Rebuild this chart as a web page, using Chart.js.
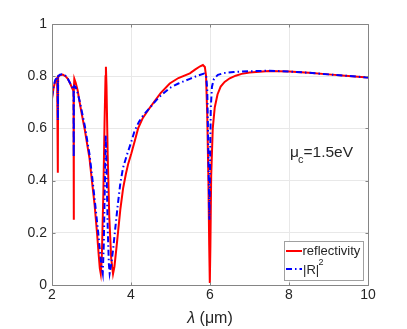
<!DOCTYPE html>
<html>
<head>
<meta charset="utf-8">
<script src="https://cdn.jsdelivr.net/npm/chart.js@4/dist/chart.umd.min.js"></script>
<style>
  html, body { margin: 0; padding: 0; background: #fff; }
  #wrap { width: 407px; height: 329px; }
</style>
</head>
<body>
<div id="wrap"><canvas id="reflChart" width="407" height="329"></canvas></div>
<script>
// values
const xTicks = [2, 4, 6, 8, 10];
const yTicks = [0, 0.2, 0.4, 0.6, 0.8, 1];

const reflX = [2.00, 2.04, 2.08, 2.13, 2.145, 2.15, 2.155, 2.20, 2.27, 2.34, 2.40, 2.46, 2.53, 2.545, 2.55, 2.555, 2.565,
  2.60, 2.65, 2.70, 2.76, 2.83, 2.90, 2.95, 3.01, 3.08, 3.14, 3.18, 3.21, 3.235, 3.26, 3.30, 3.33, 3.355, 3.365, 3.38,
  3.41, 3.45, 3.50, 3.545, 3.58, 3.63, 3.67, 3.73, 3.80, 3.87, 3.93, 4.01, 4.10, 4.18, 4.30, 4.47, 4.60, 4.75, 4.98,
  5.20, 5.49, 5.62, 5.75, 5.82, 5.87, 5.90, 5.93, 5.96, 5.98, 5.995, 6.01, 6.03, 6.07, 6.12, 6.19, 6.27, 6.37, 6.50,
  6.65, 6.80, 7.00, 7.50, 8.00, 8.50, 9.00, 9.50, 10.00];
const reflY = [0.713, 0.755, 0.780, 0.793, 0.795, 0.43, 0.797, 0.804, 0.806, 0.800, 0.790, 0.772, 0.748, 0.742, 0.25, 0.745, 0.790,
  0.775, 0.745, 0.700, 0.650, 0.595, 0.530, 0.485, 0.400, 0.305, 0.200, 0.120, 0.065, 0.043, 0.10, 0.35, 0.62, 0.80, 0.836, 0.76,
  0.50, 0.26, 0.10, 0.043, 0.07, 0.14, 0.20, 0.29, 0.37, 0.425, 0.465, 0.505, 0.555, 0.600, 0.640, 0.678, 0.705, 0.735, 0.772,
  0.793, 0.811, 0.825, 0.838, 0.843, 0.835, 0.800, 0.650, 0.400, 0.150, 0.008, 0.150, 0.420, 0.600, 0.680, 0.730, 0.760, 0.778, 0.792,
  0.802, 0.809, 0.814, 0.820, 0.818, 0.813, 0.807, 0.801, 0.795];

const r2X = [2.00, 2.04, 2.08, 2.13, 2.145, 2.15, 2.155, 2.20, 2.27, 2.34, 2.40, 2.46, 2.53, 2.545, 2.55, 2.555, 2.565,
  2.60, 2.65, 2.70, 2.83, 2.95, 3.02, 3.10, 3.17, 3.22, 3.255, 3.285, 3.31, 3.34, 3.36, 3.38, 3.41, 3.44, 3.46,
  3.50, 3.55, 3.59, 3.66, 3.73, 3.80, 3.90, 4.00, 4.09, 4.20, 4.30, 4.47, 4.70, 4.98, 5.20, 5.49, 5.70, 5.85,
  5.90, 5.93, 5.96, 5.985, 6.00, 6.02, 6.05, 6.10, 6.20, 6.35, 6.60, 7.00, 7.50, 8.00, 8.50, 9.00, 9.50, 10.00];
const r2Y = [0.720, 0.760, 0.785, 0.796, 0.797, 0.63, 0.800, 0.806, 0.808, 0.802, 0.790, 0.773, 0.752, 0.747, 0.49, 0.750, 0.762,
  0.757, 0.735, 0.705, 0.610, 0.500, 0.410, 0.300, 0.200, 0.120, 0.070, 0.045, 0.15, 0.40, 0.575, 0.45, 0.22, 0.08, 0.045,
  0.08, 0.14, 0.20, 0.30, 0.39, 0.45, 0.50, 0.545, 0.590, 0.625, 0.648, 0.678, 0.718, 0.755, 0.772, 0.790, 0.803, 0.810,
  0.805, 0.750, 0.500, 0.250, 0.450, 0.680, 0.760, 0.790, 0.805, 0.812, 0.816, 0.819, 0.821, 0.818, 0.813, 0.807, 0.801, 0.795];

const txtColor = '#262626';
const fontFam = '"Liberation Sans", Arial, Helvetica, sans-serif';

const toPts = (xs, ys) => xs.map((x, i) => ({x: x, y: ys[i]}));

const framePlugin = {
  id: 'frame',
  beforeDraw(chart) {
    const c = chart.ctx;
    c.save();
    c.fillStyle = '#fff';
    c.fillRect(0, 0, chart.width, chart.height);
    c.restore();
  },
  afterDraw(chart) {
    const c = chart.ctx;
    const a = chart.chartArea;
    const sx = chart.scales.x, sy = chart.scales.y;
    c.save();
    // box + inward ticks
    c.strokeStyle = '#858585';
    c.lineWidth = 1;
    const L = Math.round(a.left) + 0.5, R = Math.round(a.right) + 0.5;
    const T = Math.round(a.top) + 0.5, B = Math.round(a.bottom) + 0.5;
    c.beginPath();
    c.rect(L, T, R - L, B - T);
    xTicks.forEach(v => {
      const p = Math.round(sx.getPixelForValue(v)) + 0.5;
      c.moveTo(p, B); c.lineTo(p, B - 3);
      c.moveTo(p, T); c.lineTo(p, T + 3);
    });
    yTicks.forEach(v => {
      const p = Math.round(sy.getPixelForValue(v)) + 0.5;
      c.moveTo(L, p); c.lineTo(L + 3, p);
      c.moveTo(R, p); c.lineTo(R - 3, p);
    });
    c.stroke();

    c.fillStyle = txtColor;
    // x axis title
    c.textBaseline = 'alphabetic';
    c.textAlign = 'left';
    const lam = '\u03bb';
    const rest = ' (\u03bcm)';
    c.font = 'italic 16px ' + fontFam;
    const wl = c.measureText(lam).width;
    c.font = '16px ' + fontFam;
    const wr = c.measureText(rest).width;
    const x0 = (a.left + a.right) / 2 - (wl + wr) / 2;
    c.font = 'italic 16px ' + fontFam;
    c.fillText(lam, x0, 323);
    c.font = '16px ' + fontFam;
    c.fillText(rest, x0 + wl, 323);

    // annotation mu_c = 1.5eV
    c.font = '15.5px ' + fontFam;
    c.fillText('\u03bc', 290, 157);
    c.font = '11px ' + fontFam;
    c.fillText('c', 298, 163);
    c.font = '15.5px ' + fontFam;
    c.fillText('=1.5eV', 303.5, 157);

    // legend
    const lx = 284.5, ly = 241.5, lw = 79, lh = 39;
    c.fillStyle = '#fff';
    c.fillRect(lx, ly, lw, lh);
    c.strokeStyle = '#a0a0a0';
    c.strokeRect(lx, ly, lw, lh);
    c.lineWidth = 2;
    c.strokeStyle = '#ff0000';
    c.beginPath(); c.moveTo(286, 251); c.lineTo(302, 251); c.stroke();
    c.strokeStyle = '#0000ff';
    c.setLineDash([6, 3, 1.5, 3]);
    c.beginPath(); c.moveTo(286, 269); c.lineTo(302, 269); c.stroke();
    c.setLineDash([]);
    c.fillStyle = txtColor;
    c.font = '13px ' + fontFam;
    c.textBaseline = 'middle';
    c.fillText('reflectivity', 302.5, 251);
    c.fillText('|R|', 303, 270);
    c.font = '9px ' + fontFam;
    c.fillText('2', 318.5, 263);
    c.restore();
  }
};

const reflChart = new Chart(document.getElementById('reflChart').getContext('2d'), {
  type: 'line',
  data: {
    datasets: [{
      label: 'reflectivity',
      data: toPts(reflX, reflY),
      borderColor: '#ff0000',
      borderWidth: 2,
      pointRadius: 0,
      tension: 0,
      order: 1
    }, {
      label: '|R|^2',
      data: toPts(r2X, r2Y),
      borderColor: '#0000ff',
      borderWidth: 2,
      borderDash: [6, 3, 1.5, 3],
      pointRadius: 0,
      tension: 0,
      order: 0
    }]
  },
  options: {
    responsive: false,
    animation: false,
    devicePixelRatio: 1,
    layout: { padding: { top: 24, right: 39, left: 0, bottom: 0 } },
    plugins: { legend: { display: false }, tooltip: { enabled: false } },
    scales: {
      x: {
        type: 'linear', min: 2, max: 10,
        afterBuildTicks: s => { s.ticks = xTicks.map(v => ({value: v})); },
        afterFit: s => { s.height = 44; },
        grid: { color: '#e8e8e8', drawTicks: false },
        border: { display: false },
        ticks: { color: txtColor, padding: 2, maxRotation: 0, font: { size: 14, family: fontFam }, callback: v => String(v) }
      },
      y: {
        type: 'linear', min: 0, max: 1,
        afterBuildTicks: s => { s.ticks = yTicks.map(v => ({value: v})); },
        afterFit: s => { s.width = 52; },
        grid: { color: '#e8e8e8', drawTicks: false },
        border: { display: false },
        ticks: { color: txtColor, padding: 5, font: { size: 14, family: fontFam }, callback: v => String(v) }
      }
    }
  },
  plugins: [framePlugin]
});
</script>
</body>
</html>
